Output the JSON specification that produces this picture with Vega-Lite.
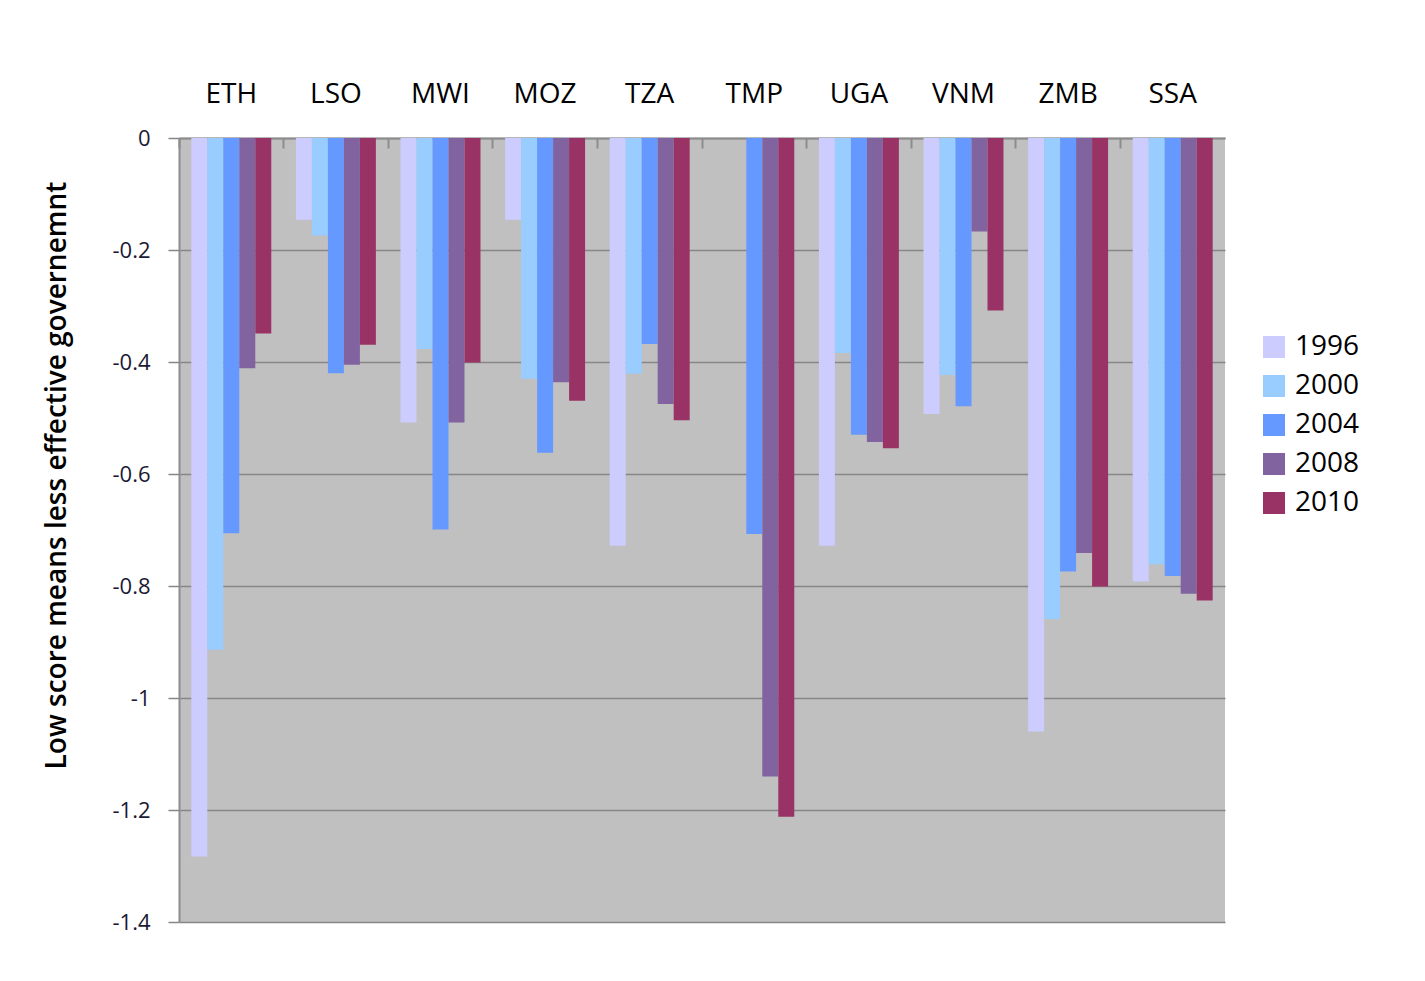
{
  "$schema": "https://vega.github.io/schema/vega-lite/v6.json",
  "width": 1046,
  "height": 784,
  "autosize": {"type": "none"},
  "padding": {"left": 179, "top": 138, "right": 200, "bottom": 59},
  "background": "white",
  "config": {
    "view": {"fill": "#c0c0c0", "stroke": null},
    "font": "Open Sans"
  },
  "data": {
    "values": [
      {"country": "ETH", "year": "1996", "score": -1.283},
      {"country": "ETH", "year": "2000", "score": -0.914},
      {"country": "ETH", "year": "2004", "score": -0.706},
      {"country": "ETH", "year": "2008", "score": -0.411},
      {"country": "ETH", "year": "2010", "score": -0.349},
      {"country": "LSO", "year": "1996", "score": -0.146},
      {"country": "LSO", "year": "2000", "score": -0.174},
      {"country": "LSO", "year": "2004", "score": -0.420},
      {"country": "LSO", "year": "2008", "score": -0.405},
      {"country": "LSO", "year": "2010", "score": -0.369},
      {"country": "MWI", "year": "1996", "score": -0.508},
      {"country": "MWI", "year": "2000", "score": -0.377},
      {"country": "MWI", "year": "2004", "score": -0.699},
      {"country": "MWI", "year": "2008", "score": -0.508},
      {"country": "MWI", "year": "2010", "score": -0.401},
      {"country": "MOZ", "year": "1996", "score": -0.146},
      {"country": "MOZ", "year": "2000", "score": -0.430},
      {"country": "MOZ", "year": "2004", "score": -0.562},
      {"country": "MOZ", "year": "2008", "score": -0.436},
      {"country": "MOZ", "year": "2010", "score": -0.469},
      {"country": "TZA", "year": "1996", "score": -0.728},
      {"country": "TZA", "year": "2000", "score": -0.421},
      {"country": "TZA", "year": "2004", "score": -0.368},
      {"country": "TZA", "year": "2008", "score": -0.475},
      {"country": "TZA", "year": "2010", "score": -0.504},
      {"country": "TMP", "year": "2004", "score": -0.707},
      {"country": "TMP", "year": "2008", "score": -1.140},
      {"country": "TMP", "year": "2010", "score": -1.212},
      {"country": "UGA", "year": "1996", "score": -0.728},
      {"country": "UGA", "year": "2000", "score": -0.384},
      {"country": "UGA", "year": "2004", "score": -0.530},
      {"country": "UGA", "year": "2008", "score": -0.543},
      {"country": "UGA", "year": "2010", "score": -0.554},
      {"country": "VNM", "year": "1996", "score": -0.493},
      {"country": "VNM", "year": "2000", "score": -0.423},
      {"country": "VNM", "year": "2004", "score": -0.479},
      {"country": "VNM", "year": "2008", "score": -0.167},
      {"country": "VNM", "year": "2010", "score": -0.308},
      {"country": "ZMB", "year": "1996", "score": -1.060},
      {"country": "ZMB", "year": "2000", "score": -0.859},
      {"country": "ZMB", "year": "2004", "score": -0.774},
      {"country": "ZMB", "year": "2008", "score": -0.741},
      {"country": "ZMB", "year": "2010", "score": -0.801},
      {"country": "SSA", "year": "1996", "score": -0.792},
      {"country": "SSA", "year": "2000", "score": -0.761},
      {"country": "SSA", "year": "2004", "score": -0.782},
      {"country": "SSA", "year": "2008", "score": -0.814},
      {"country": "SSA", "year": "2010", "score": -0.826}
    ]
  },
  "mark": {"type": "bar"},
  "encoding": {
    "x": {
      "field": "country",
      "type": "nominal",
      "sort": ["ETH", "LSO", "MWI", "MOZ", "TZA", "TMP", "UGA", "VNM", "ZMB", "SSA"],
      "scale": {"paddingInner": 0, "paddingOuter": 0},
      "axis": {
        "orient": "top",
        "title": null,
        "labelAngle": 0,
        "labelFontSize": 28,
        "labelColor": "#000000",
        "labelPadding": 40,
        "domainColor": "#8c8c8c",
        "domainWidth": 2,
        "ticks": true,
        "tickColor": "#8c8c8c",
        "tickWidth": 2,
        "tickSize": -10,
        "bandPosition": 0,
        "grid": false
      }
    },
    "xOffset": {
      "field": "year",
      "type": "nominal",
      "scale": {"paddingInner": 0, "paddingOuter": 0.77}
    },
    "y": {
      "field": "score",
      "type": "quantitative",
      "scale": {"domain": [-1.4, 0], "nice": false},
      "axis": {
        "values": [0, -0.2, -0.4, -0.6, -0.8, -1, -1.2, -1.4],
        "labelExpr": "replace(format(datum.value, '.1~f'), '\u2212', '-')",
        "title": "Low score means less effective governemnt",
        "titleFontSize": 28,
        "titleFontWeight": 600,
        "titleColor": "#000000",
        "titleY": 337,
        "titlePadding": 40,
        "labelFontSize": 22,
        "labelColor": "#1a1a33",
        "labelPadding": 18,
        "tickSize": 11,
        "tickColor": "#868686",
        "tickWidth": 1.5,
        "domainColor": "#8c8c8c",
        "domainWidth": 2,
        "grid": true,
        "gridColor": "#868686",
        "gridWidth": 1.5
      }
    },
    "color": {
      "field": "year",
      "type": "nominal",
      "scale": {
        "domain": ["1996", "2000", "2004", "2008", "2010"],
        "range": ["#ccccff", "#99ccff", "#6699ff", "#80639f", "#993366"]
      },
      "legend": {
        "title": null,
        "orient": "none",
        "legendX": 1081,
        "legendY": 195,
        "symbolType": "square",
        "symbolSize": 484,
        "symbolStrokeWidth": 0,
        "symbolOpacity": 1,
        "labelFontSize": 28,
        "labelColor": "#000000",
        "labelOffset": 7,
        "rowPadding": 11
      }
    }
  }
}
